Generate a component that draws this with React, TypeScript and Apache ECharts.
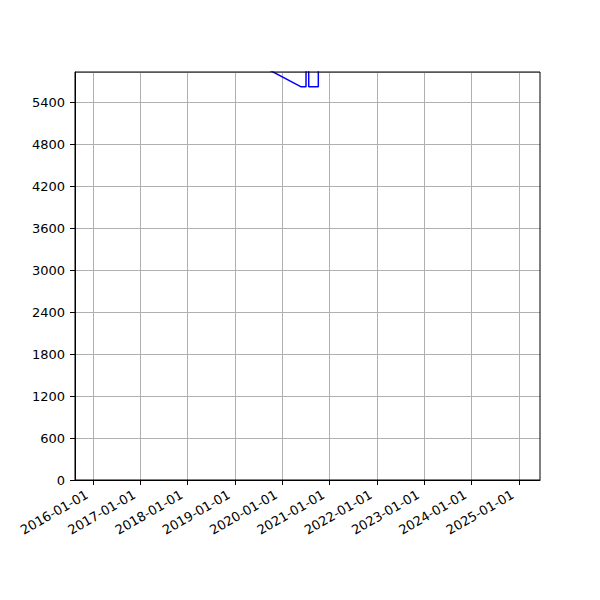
import React, { useEffect, useRef } from "react";
import * as echarts from "echarts";

const dates = [
  "2019-06-01",
  "2020-05-23",
  "2020-07-03",
  "2020-07-04",
  "2020-07-23",
  "2020-07-24",
  "2020-10-06",
  "2020-10-07",
  "2021-01-01",
];
const values = [5970, 5620, 5620, 7000, 7000, 5620, 5620, 7000, 7000];
const yearTicks = [
  "2016-01-01",
  "2017-01-01",
  "2018-01-01",
  "2019-01-01",
  "2020-01-01",
  "2021-01-01",
  "2022-01-01",
  "2023-01-01",
  "2024-01-01",
  "2025-01-01",
];
const xMin = "2015-08-15";
const xMax = "2025-06-14";
const yMax = 5829;
const yStep = 600;

const ts = (d: string) => new Date(d + "T00:00:00Z").getTime();

export default function App() {
  const ref = useRef<HTMLDivElement>(null);
  useEffect(() => {
    const chart = echarts.init(ref.current!, null, { renderer: "svg" });
    const tickVals = yearTicks.map(ts);
    const font = "DejaVu Sans";
    chart.setOption({
      animation: false,
      grid: { left: 75, right: 60, top: 72, bottom: 120, containLabel: false },
      xAxis: {
        type: "value",
        min: ts(xMin),
        max: ts(xMax),
        axisLine: { onZero: false, lineStyle: { color: "#000", width: 1 } },
        axisTick: { show: true, length: 5, customValues: tickVals, lineStyle: { color: "#000" } },
        axisLabel: {
          customValues: tickVals,
          rotate: 30,
          margin: 10,
          padding: [0, 7, 0, 0],
          color: "#000",
          fontSize: 13,
          fontFamily: font,
          hideOverlap: false,
          formatter: (v: number) => {
            const d = new Date(v);
            const p = (n: number) => String(n).padStart(2, "0");
            return `${d.getUTCFullYear()}-${p(d.getUTCMonth() + 1)}-${p(d.getUTCDate())}`;
          },
        },
        splitLine: { show: true, lineStyle: { color: "#b0b0b0", width: 1 } },
      },
      yAxis: {
        type: "value",
        min: 0,
        max: yMax,
        interval: yStep,
        axisLine: { show: true, lineStyle: { color: "#000", width: 1 } },
        axisTick: { show: true, length: 5, lineStyle: { color: "#000" } },
        axisLabel: {
          color: "#000",
          fontSize: 13,
          fontFamily: font,
          margin: 10,
          showMaxLabel: false,
          formatter: (v: number) => String(v),
        },
        splitLine: { show: true, lineStyle: { color: "#b0b0b0", width: 1 } },
      },
      series: [
        {
          type: "line",
          data: dates.map((d, i) => [ts(d), values[i]]),
          showSymbol: false,
          clip: true,
          lineStyle: { color: "#0000ff", width: 1.5 },
          itemStyle: { color: "#0000ff" },
        },
      ],
      graphic: [
        {
          type: "rect",
          shape: { x: 75, y: 72, width: 465, height: 408 },
          style: { fill: "none", stroke: "#000", lineWidth: 1 },
          silent: true,
          z: 100,
        },
      ],
    });
    return () => chart.dispose();
  }, []);
  return <div ref={ref} style={{ width: 600, height: 600, margin: -8 }} />;
}
